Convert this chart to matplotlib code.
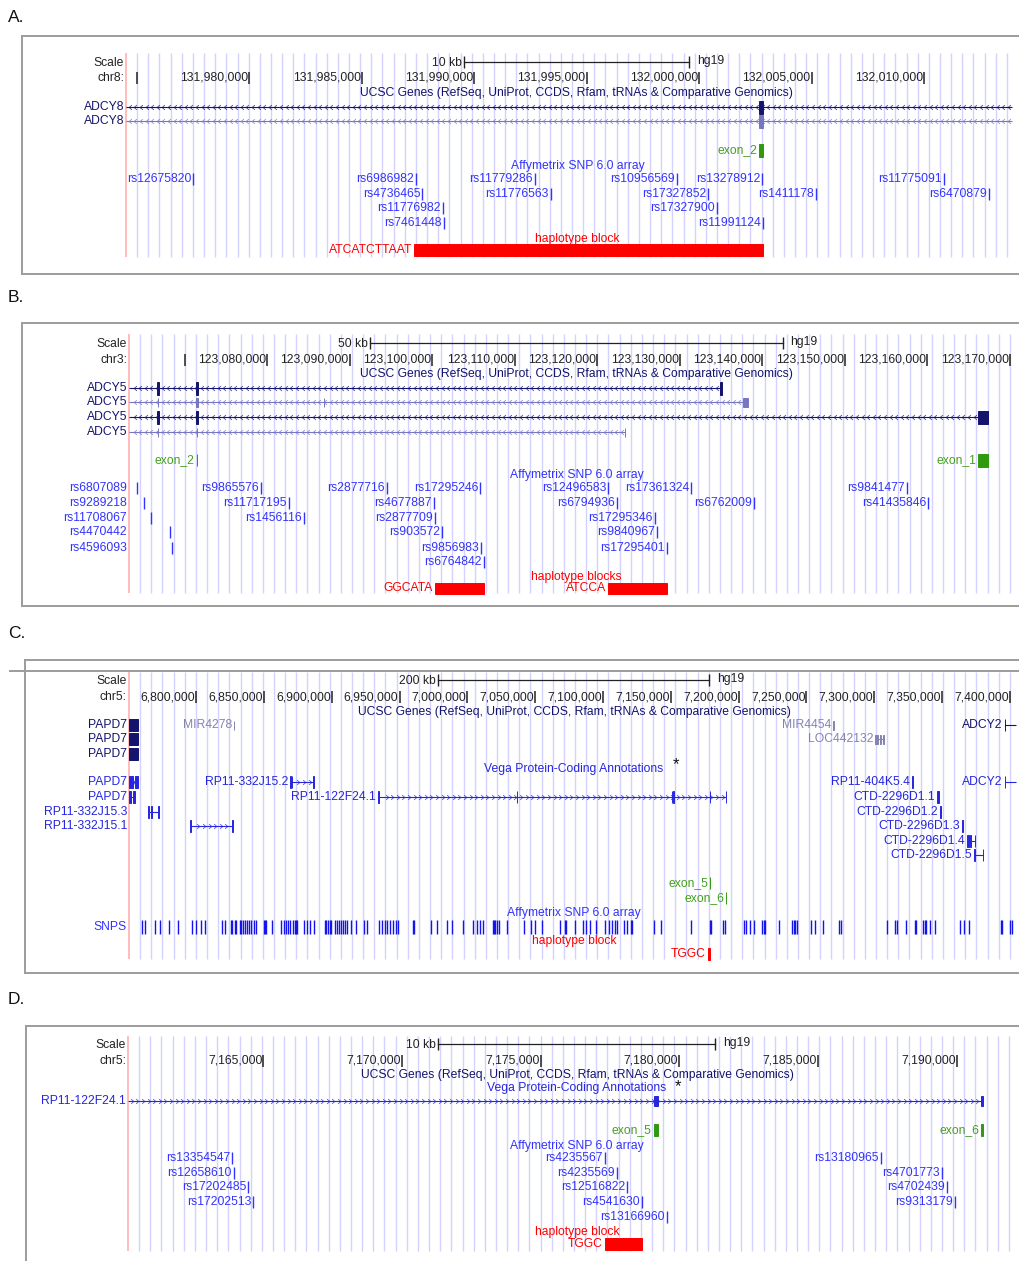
import numpy as np
import matplotlib.pyplot as plt
from matplotlib.path import Path
from matplotlib.patches import Rectangle
from matplotlib.lines import Line2D

plt.rcParams['font.family'] = ['Liberation Sans', 'DejaVu Sans']

# ---------------- data ----------------
# A. chr8 / ADCY8
a_ticks = [131975000, 131980000, 131985000, 131990000, 131995000, 132000000, 132005000, 132010000]
a_scale_start = 131989547
adcy8 = (131792547, 132052835)
a_exon2 = (132002660, 132002840)
a_snp_names = ['rs12675820', 'rs6986982', 'rs11779286', 'rs10956569', 'rs13278912', 'rs11775091',
               'rs4736465', 'rs11776563', 'rs17327852', 'rs1411178', 'rs6470879',
               'rs11776982', 'rs17327900', 'rs7461448', 'rs11991124']
a_snp_pos = [131977500, 131987400, 131992700, 131999000, 132002800, 132010900,
             131987700, 131993400, 132000400, 132005200, 132012900,
             131988600, 132000800, 131988650, 132002850]
a_snp_row = [0, 0, 0, 0, 0, 0, 1, 1, 1, 1, 1, 2, 2, 3, 3]
a_hap = (131987320, 132002850)
a_hap_name = 'ATCATCTTAAT'

# B. chr3 / ADCY5
b_ticks = [123070000, 123080000, 123090000, 123100000, 123110000, 123120000,
           123130000, 123140000, 123150000, 123160000, 123170000]
b_scale_start = 123092445
b_ex_a = (123066650, 123066890)
b_ex_b = (123071380, 123071620)
b_genes = [  # start, end, exons, dark isoform?
    (123001143, 123135100, [b_ex_a, b_ex_b, (123134880, 123135100)], True),
    (123001143, 123138250, [(123066740, 123066780), b_ex_b, (123086840, 123086900), (123137650, 123138250)], False),
    (123001143, 123167340, [b_ex_a, b_ex_b, (123166120, 123167340)], True),
    (123001143, 123123350, [(123066740, 123066800), (123071440, 123071520), (123123300, 123123350)], False),
]
b_exon2 = (123071440, 123071520)
b_exon1 = (123166120, 123167340)
b_snp_names = ['rs6807089', 'rs9865576', 'rs2877716', 'rs17295246', 'rs12496583', 'rs17361324', 'rs9841477',
               'rs9289218', 'rs11717195', 'rs4677887', 'rs6794936', 'rs6762009', 'rs41435846',
               'rs11708067', 'rs1456116', 'rs2877709', 'rs17295346',
               'rs4470442', 'rs903572', 'rs9840967',
               'rs4596093', 'rs9856983', 'rs17295401',
               'rs6764842']
b_snp_pos = [123064210, 123079240, 123094500, 123105780, 123121290, 123131340, 123157520,
             123065060, 123082630, 123100200, 123122380, 123138980, 123160060,
             123065910, 123084450, 123100320, 123126980,
             123068210, 123101170, 123127220,
             123068450, 123105900, 123128440,
             123106260]
b_snp_row = [0] * 7 + [1] * 6 + [2] * 4 + [3] * 3 + [4] * 3 + [5]
b_margin = {'rs6807089', 'rs9289218', 'rs11708067', 'rs4470442', 'rs4596093'}
b_haps = [('GGCATA', 123100320, 123106260), ('ATCCA', 123121290, 123128440)]

# C. chr5 wide view
c_ticks = list(range(6800000, 7400001, 50000))
c_scale_start = 6978378
c_genes = [  # name, start, end, strand, exons, kind, row
    ('PAPD7', 6714718, 6757161, '+', [(6714718, 6754000), (6754600, 6757161)], 'ucsc', 0),
    ('MIR4278', 6827900, 6828150, '+', [(6827900, 6828150)], 'nc', 0),
    ('MIR4454', 7269700, 7269950, '-', [(7269700, 7269950)], 'nc', 0),
    ('ADCY2', 7396208, 7830194, '+', [(7396208, 7396600)], 'ucsc', 0),
    ('PAPD7', 6714718, 6757161, '+', [(6714718, 6754000), (6754600, 6757161)], 'ucsc', 1),
    ('LOC442132', 7300765, 7307400, '-', [(7300765, 7302600), (7304000, 7305200), (7306300, 7307400)], 'nc', 1),
    ('PAPD7', 6714718, 6757161, '+', [(6714718, 6754000), (6754600, 6757161)], 'ucsc', 2),
    ('PAPD7', 6714718, 6757161, '+', [(6714718, 6753500), (6754800, 6757161)], 'vega', 3),
    ('RP11-332J15.2', 6869330, 6887030, '+', [(6869330, 6869800), (6870700, 6871100), (6886600, 6887030)], 'vega', 3),
    ('RP11-404K5.4', 7327800, 7328400, '+', [(7327800, 7328400)], 'vega', 3),
    ('ADCY2', 7396208, 7830194, '+', [(7396208, 7396600)], 'vega', 3),
    ('PAPD7', 6714718, 6755000, '+', [(6714718, 6752000), (6753300, 6755000)], 'vega', 4),
    ('RP11-122F24.1', 6934230, 7190940, '+', [(6934230, 6934600), (7036500, 7036900), (7150700, 7151100),
                                              (7151700, 7152100), (7179080, 7179230), (7190880, 7190940)], 'vega', 4),
    ('CTD-2296D1.1', 7346300, 7347300, '+', [(7346300, 7347300)], 'vega', 4),
    ('RP11-332J15.3', 6764600, 6772715, '+', [(6764600, 6765600), (6767000, 6767800), (6771800, 6772715)], 'vega', 5),
    ('CTD-2296D1.2', 7348300, 7349200, '+', [(7348300, 7349200)], 'vega', 5),
    ('RP11-332J15.1', 6795580, 6827290, '+', [(6795580, 6796100), (6826800, 6827290)], 'vega', 6),
    ('CTD-2296D1.3', 7364600, 7365400, '+', [(7364600, 7365400)], 'vega', 6),
    ('CTD-2296D1.4', 7368615, 7374515, '+', [(7368615, 7369500), (7370300, 7371200), (7374000, 7374515)], 'vega', 7),
    ('CTD-2296D1.5', 7373780, 7380415, '+', [(7373780, 7374300), (7379900, 7380415)], 'vega', 8),
]
c_margin = {'RP11-332J15.3', 'RP11-332J15.1'}
c_snp_kb = [6760.2, 6762.6, 6769.5, 6773.2, 6779.9, 6786.7, 6797.0, 6800.2, 6803.5, 6806.4,
            6819.2, 6821.6, 6825.6, 6826.8, 6828.5, 6829.7, 6832.2, 6833.4, 6834.7, 6835.9,
            6837.8, 6838.9, 6840.8, 6842.8, 6844.0, 6850.2, 6851.1, 6851.8, 6856.1, 6862.9,
            6864.7, 6866.2, 6867.9, 6869.5, 6871.5, 6872.8, 6874.0, 6874.7, 6879.4, 6881.9,
            6884.3, 6886.8, 6894.9, 6896.1, 6897.4, 6898.6, 6899.8, 6902.3, 6904.0, 6905.5,
            6907.2, 6908.4, 6910.1, 6911.6, 6914.1, 6918.2, 6923.7, 6926.3, 6935.0, 6937.4,
            6939.2, 6941.1, 6942.9, 6945.3, 6947.7, 6949.0, 6960.0, 6960.8,
            6973.1, 6978.0, 6985.3, 6988.6, 6996.7, 7004.5, 7007.0, 7009.5, 7011.9, 7018.8,
            7019.8, 7020.7, 7021.8, 7023.0, 7029.2, 7041.9, 7046.9, 7050.0, 7055.0, 7068.5,
            7071.9, 7072.9, 7079.5, 7084.9, 7087.4, 7090.6, 7094.8, 7101.7, 7104.1, 7106.6,
            7109.0, 7110.3, 7115.7, 7117.7, 7120.6, 7121.6, 7137.3, 7143.0, 7164.9, 7178.6,
            7179.6, 7188.2, 7190.2, 7203.6, 7205.4, 7208.6, 7211.0, 7217.2, 7218.4, 7219.7,
            7230.0, 7239.3, 7240.5, 7241.8, 7243.0, 7253.4, 7256.5, 7261.9, 7273.7, 7275.7,
            7309.4, 7315.5, 7317.0, 7323.4, 7329.8, 7331.0, 7335.7, 7337.1, 7338.2, 7341.3,
            7345.0, 7362.9, 7365.9, 7369.6, 7393.0, 7394.2, 7400.3, 7401.6]
exon5 = (7179080, 7179230)
exon6 = (7190880, 7190940)
hap_tggc = (7177320, 7178650)

# D. chr5 zoomed
d_ticks = [7165000, 7170000, 7175000, 7180000, 7185000, 7190000]
d_scale_start = 7171298
rp11 = (6934230, 7190940)
d_snp_names = ['rs13354547', 'rs4235567', 'rs13180965', 'rs12658610', 'rs4235569', 'rs4701773',
               'rs17202485', 'rs12516822', 'rs4702439', 'rs17202513', 'rs4541630', 'rs9313179',
               'rs13166960']
d_snp_pos = [7163870, 7177320, 7187270, 7163940, 7177750, 7189470, 7164450, 7178110, 7189650,
             7164630, 7178650, 7189940, 7179550]
d_snp_row = [0, 0, 0, 1, 1, 1, 2, 2, 2, 3, 3, 3, 4]

UCSC_T = 'UCSC Genes (RefSeq, UniProt, CCDS, Rfam, tRNAs & Comparative Genomics)'

# ---------------- style ----------------
W, H = 1019, 1261
fig = plt.figure(figsize=(W / 100, H / 100), dpi=100)
FS = 8.7
DARK = '#222222'
NAVY = '#14146e'
LIGHT = '#7676c2'
GREYC = '#8484ae'
VEGA = '#2626e0'
SNPC = '#3333ff'
GREEN_T = '#45a020'
GREEN = '#2f9a10'
RED = '#ff0000'
GRID = '#d2d2fc'
PINK = '#ffb0b0'
KIND = {'ucsc': NAVY, 'nc': GREYC, 'vega': VEGA}

LCH = Path([(0.6, 1), (-0.6, 0), (0.6, -1)])
RCH = Path([(-0.6, 1), (0.6, 0), (-0.6, -1)])


def panel(box, calib, track, letter, letter_y, bottom=True):
    l, t, r, b = box
    ax = fig.add_axes([l / W, 1 - b / H, (r - l) / W, (b - t) / H])
    (p0, v0), (p1, v1) = calib
    bp = (v1 - v0) / (p1 - p0)
    px = lambda p: v0 + (p - p0) * bp
    ax.set_xlim(px(l), px(r))
    ax.set_ylim(b, t)
    ax.set_xticks([])
    ax.set_yticks([])
    for s in ax.spines.values():
        s.set_color('#9c9c9c')
        s.set_linewidth(1.4)
    ax.spines['right'].set_visible(False)
    if not bottom:
        ax.spines['bottom'].set_visible(False)
    x0, x1, y0, y1 = track
    gx = np.arange(x0 + 11.15, x1 + 1, 11.15)
    ax.vlines([px(g) for g in gx], y0, y1, color=GRID, lw=1.0, zorder=0)
    ax.vlines(px(x0), y0, y1, color=PINK, lw=1.2, zorder=0)
    fig.text(8 / W, 1 - letter_y / H, letter, fontsize=12.5, va='center', color='#111111')
    return dict(ax=ax, bp=bp, px=px, start=px(x0), end=px(x1))


def lab(P, x, y, s, color, margin=False, fs=FS):
    if margin:
        x = P['start']
    P['ax'].annotate(s, (x, y), xytext=(-2, 0), textcoords='offset pixels', ha='right',
                     va='center', fontsize=fs, color=color)


def ctext(P, y, s, color, xpx=576):
    P['ax'].text(P['px'](xpx), y, s, ha='center', va='center', fontsize=FS, color=color)


def block(P, s, e, y, h, color):
    s, e = max(s, P['start']), min(e, P['end'])
    P['ax'].add_patch(Rectangle((s, y - h / 2), e - s, h, fc=color, ec=color, lw=0.7, zorder=3))


def gene(P, s, e, y, color, strand, exons, h):
    ax = P['ax']
    a, b = max(s, P['start']), min(e, P['end'])
    ax.plot([a, b], [y, y], color=color, lw=0.8, solid_capstyle='butt', zorder=2)
    step = 5.6 * P['bp']
    ch = np.arange(s + step / 2, e, step)
    ch = ch[(ch > a + step / 2) & (ch < b - step / 2)]
    ax.plot(ch, np.full(ch.size, y), ls='none', marker=LCH if strand == '-' else RCH,
            ms=3.4, mfc='none', mec=color, mew=0.55, alpha=0.85, zorder=2)
    for es, ee in exons:
        block(P, es, ee, y, h, color)


def scale_row(P, y, start, length, label):
    ax = P['ax']
    ax.plot([start, start + length], [y - 1, y - 1], color=DARK, lw=0.9)
    ax.vlines([start, start + length], y - 7, y + 5, color=DARK, lw=1.0)
    lab(P, start, y, label, DARK)
    ax.annotate('hg19', (start + length, y), xytext=(8, 2), textcoords='offset pixels',
                ha='left', va='center', fontsize=FS, color=DARK)
    lab(P, 0, y, 'Scale', DARK, margin=True)


def chrom_row(P, y, chrom, ticks, blank_first):
    ax = P['ax']
    lab(P, 0, y, chrom + ':', DARK, margin=True)
    ax.vlines(ticks, y - 6, y + 6, color=DARK, lw=1.1)
    for i, t in enumerate(ticks):
        if i == 0 and blank_first:
            continue
        ax.annotate(f'{t:,}', (t, y), xytext=(-1, 0), textcoords='offset pixels',
                    ha='right', va='center', fontsize=FS, color=DARK)


def snps(P, ys, names, pos, rows, margin=()):
    for n, p, r in zip(names, pos, rows):
        y = ys[r]
        P['ax'].vlines(p, y - 6, y + 6, color=SNPC, lw=1.0)
        lab(P, p, y, n, SNPC, margin=n in margin)


# ---------------- A ----------------
A = panel((22, 36, 1019, 274), ((249.3, 131980000), (924.0, 132010000)), (126, 1012, 53, 257), 'A.', 18)
scale_row(A, 63, a_scale_start, 10000, '10 kb')
chrom_row(A, 78, 'chr8', a_ticks, True)
ctext(A, 93, UCSC_T, NAVY)
for y, col in zip([107, 121], [NAVY, LIGHT]):
    gene(A, adcy8[0], adcy8[1], y, col, '-', [a_exon2], 13)
    lab(A, 0, y, 'ADCY8', NAVY, margin=True)
block(A, *a_exon2, 150, 13, GREEN)
lab(A, a_exon2[0], 150, 'exon_2', GREEN_T)
ctext(A, 166, 'Affymetrix SNP 6.0 array', SNPC, 578)
snps(A, [179, 194, 208, 223], a_snp_names, a_snp_pos, a_snp_row)
ctext(A, 239, 'haplotype block', RED, 577)
block(A, *a_hap, 250, 12, RED)
lab(A, a_hap[0], 250, a_hap_name, RED)

# ---------------- B ----------------
B = panel((22, 323, 1019, 606), ((267.3, 123080000), (1010, 123170000)), (129, 1014, 334, 593), 'B.', 297)
scale_row(B, 344, b_scale_start, 50000, '50 kb')
chrom_row(B, 360, 'chr3', b_ticks, True)
ctext(B, 374, UCSC_T, NAVY)
for y, (s, e, ex, dark) in zip([388, 402, 417, 432], b_genes):
    gene(B, s, e, y, NAVY if dark else LIGHT, '-', ex, 13 if dark else 9)
    lab(B, 0, y, 'ADCY5', NAVY, margin=True)
block(B, *b_exon2, 460, 12, GREEN)
lab(B, b_exon2[0], 460, 'exon_2', GREEN_T)
block(B, *b_exon1, 460, 13, GREEN)
lab(B, b_exon1[0], 460, 'exon_1', GREEN_T)
ctext(B, 475, 'Affymetrix SNP 6.0 array', SNPC, 577)
snps(B, [488, 503, 518, 532, 548, 562], b_snp_names, b_snp_pos, b_snp_row, b_margin)
ctext(B, 577, 'haplotype blocks', RED, 576)
for name, s, e in b_haps:
    block(B, s, e, 588, 11, RED)
    lab(B, s, 588, name, RED)

# ---------------- C ----------------
C = panel((25, 660, 1019, 973), ((196, 6800000), (1010, 7400000)), (129, 1016, 672, 959), 'C.', 633)
fig.add_artist(Line2D([10 / W, 1], [1 - 671 / H] * 2, color='#9c9c9c', lw=1.4))
scale_row(C, 681, c_scale_start, 200000, '200 kb')
chrom_row(C, 697, 'chr5', c_ticks, False)
ctext(C, 712, UCSC_T, NAVY, 574)
c_rows = [725, 739, 754, 782, 797, 812, 826, 841, 855]
for name, s, e, strand, ex, kind, row in c_genes:
    y = c_rows[row]
    col = KIND[kind]
    gene(C, s, e, y, col, strand, ex, 12 if kind != 'nc' else 9)
    lab(C, s, y, name, col, margin=(s < C['start'] or name in c_margin))
ctext(C, 769, 'Vega Protein-Coding Annotations', VEGA, 574)
C['ax'].text(C['px'](676), 765, '*', ha='center', va='center', fontsize=12, color='#111111')
block(C, *exon5, 883, 12, GREEN)
lab(C, exon5[0], 883, 'exon_5', GREEN_T)
block(C, *exon6, 898, 12, GREEN)
lab(C, exon6[0], 898, 'exon_6', GREEN_T)
ctext(C, 913, 'Affymetrix SNP 6.0 array', SNPC, 574)
c_snp = np.array(c_snp_kb) * 1000
C['ax'].vlines(c_snp, 920, 934, color='#1414f0', lw=1.0)
lab(C, 0, 927, 'SNPS', SNPC, margin=True)
ctext(C, 941, 'haplotype block', RED, 574)
block(C, *hap_tggc, 954, 12, RED)
lab(C, hap_tggc[0], 954, 'TGGC', RED)

# ---------------- D ----------------
D = panel((26, 1026, 1019, 1263), ((263.3, 7165000), (956.7, 7190000)), (128, 1014, 1036, 1251), 'D.', 1000,
          bottom=False)
scale_row(D, 1045, d_scale_start, 10000, '10 kb')
chrom_row(D, 1061, 'chr5', d_ticks, False)
ctext(D, 1075, UCSC_T, NAVY, 577)
ctext(D, 1088, 'Vega Protein-Coding Annotations', VEGA, 577)
D['ax'].text(D['px'](678), 1087, '*', ha='center', va='center', fontsize=12, color='#111111')
gene(D, rp11[0], rp11[1], 1101, VEGA, '+', [exon5, exon6], 10)
lab(D, 0, 1101, 'RP11-122F24.1', VEGA, margin=True)
block(D, *exon5, 1130, 12, GREEN)
lab(D, exon5[0], 1130, 'exon_5', GREEN_T)
block(D, *exon6, 1130, 12, GREEN)
lab(D, exon6[0], 1130, 'exon_6', GREEN_T)
ctext(D, 1146, 'Affymetrix SNP 6.0 array', SNPC, 577)
snps(D, [1158, 1173, 1187, 1202, 1217], d_snp_names, d_snp_pos, d_snp_row)
ctext(D, 1232, 'haplotype block', RED, 577)
block(D, *hap_tggc, 1244, 12, RED)
lab(D, hap_tggc[0], 1244, 'TGGC', RED)

fig.savefig('out.png', dpi=100)
